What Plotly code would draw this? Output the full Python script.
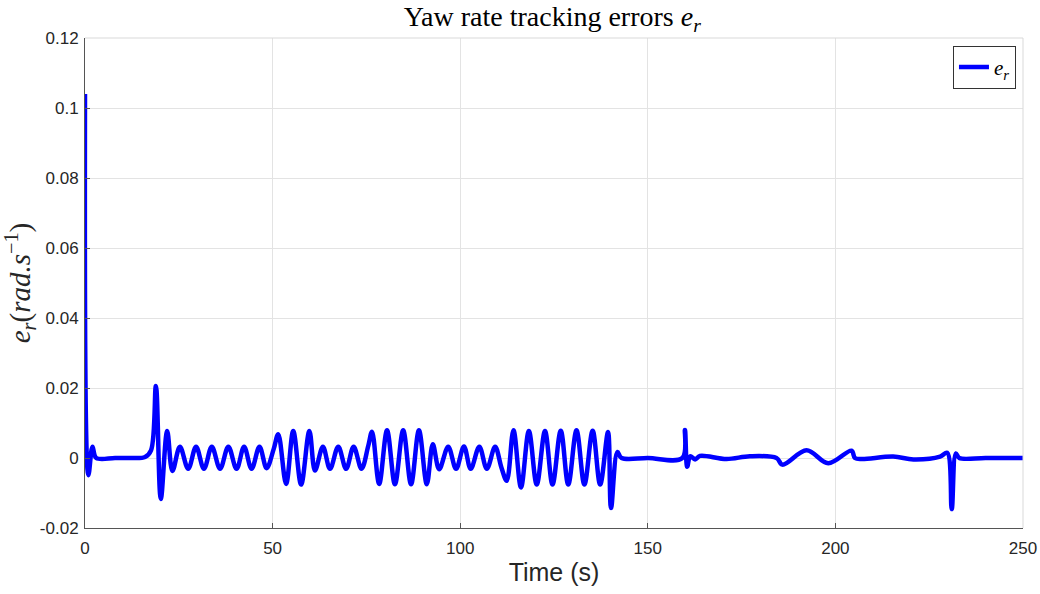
import plotly.graph_objects as go

# Key points (time in s, yaw-rate error in rad/s)
time_s = [
    0.0, 0.9, 2.0, 3.0, 8.0, 12.0, 16.0, 17.6, 18.9, 20.2, 21.9, 23.3,
    25.3, 27.5, 29.6, 31.7, 33.8, 36.0, 38.2, 40.4, 42.4, 44.4, 46.5, 48.4,
    50.3, 51.5, 53.6, 55.5, 57.6, 59.8, 61.3, 63.4, 65.3, 67.5, 69.6, 71.6,
    73.7, 75.5, 76.5, 78.4, 80.5, 82.6, 84.8, 86.9, 89.0, 91.1, 92.7, 94.4,
    96.8, 98.9, 101.0, 102.8, 105.1, 107.1, 109.3, 111.0, 112.4, 114.2, 116.2,
    118.3, 120.4, 122.6, 124.6, 126.8, 128.8, 131.0, 133.1, 135.3, 137.3,
    139.4, 140.2, 141.9, 143.0, 150.0, 159.2, 159.9, 160.5, 161.3, 162.6,
    163.9, 171.0, 177.2, 184.3, 185.9, 192.3, 198.1, 204.3, 205.2, 207.0,
    215.4, 220.8, 227.9, 229.8, 231.0, 232.1, 233.0, 240.0, 250.0,
]
error_r = [
    0.104, -0.0049, 0.0032, 0.0, 0.0, 0.0, 0.0003, 0.0022, 0.0206, -0.0117, 0.0077, -0.0037,
    0.0032, -0.0031, 0.0032, -0.0031, 0.0032, -0.0031, 0.0032, -0.0031, 0.0032, -0.0031, 0.0032, -0.0029,
    0.0026, 0.0068, -0.0074, 0.0077, -0.0076, 0.0077, -0.0036, 0.0032, -0.0031, 0.0032, -0.0031, 0.0032,
    -0.0031, 0.0035, 0.0075, -0.0074, 0.0079, -0.0075, 0.0079, -0.0075, 0.0079, -0.0075, 0.0039, -0.0032,
    0.0032, -0.0031, 0.0033, -0.0031, 0.0032, -0.0031, 0.0032, -0.0028, -0.0065, 0.0079, -0.0084,
    0.0077, -0.0076, 0.0077, -0.0076, 0.0078, -0.0076, 0.0079, -0.0076, 0.0078, -0.0076,
    0.0074, -0.0143, 0.0017, 0.0, 0.0, 0.0, 0.008, -0.0025, 0.0005, -0.0004,
    0.0006, -0.0003, 0.0005, 0.0, -0.0019, 0.0022, -0.0015, 0.0021, 0.0, -0.0003,
    0.0004, -0.0004, 0.0004, 0.0015, -0.0146, 0.0013, 0.0, 0.0, 0.0,
]

x_ticks = [0, 50, 100, 150, 200, 250]
x_ticktext = ["0", "50", "100", "150", "200", "250"]
y_ticks = [-0.02, 0, 0.02, 0.04, 0.06, 0.08, 0.1, 0.12]
y_ticktext = ["-0.02", "0", "0.02", "0.04", "0.06", "0.08", "0.1", "0.12"]

serif = "Liberation Serif, DejaVu Serif, serif"
sans = "Liberation Sans, Arial, sans-serif"

fig = go.Figure()
fig.add_trace(go.Scatter(
    x=time_s, y=error_r, mode="lines",
    line=dict(color="#0000FF", width=4.5, shape="spline", smoothing=1.0),
    name="<i>e<sub>r</sub></i>",
))

fig.update_layout(
    width=1040, height=594,
    margin=dict(l=85, r=17, t=38, b=66, autoexpand=False),
    paper_bgcolor="white", plot_bgcolor="white",
    title=dict(text="Yaw rate tracking errors <i>e<sub>r</sub></i>",
               x=0.531, xanchor="center", y=0.973, yanchor="middle",
               automargin=False,
               font=dict(family=serif, size=28, color="#000000")),
    showlegend=True,
    legend=dict(x=0.9925, y=0.984, xanchor="right", yanchor="top",
                bgcolor="white", bordercolor="#333333", borderwidth=1,
                font=dict(family=serif, size=21, color="#000000"),
                itemwidth=30, tracegroupgap=0),
    xaxis=dict(range=[0, 250], tickvals=x_ticks, ticktext=x_ticktext,
               automargin=False,
               showgrid=True, gridcolor="#e3e3e3", gridwidth=1,
               showline=True, linecolor="#555555", linewidth=1,
               ticks="inside", ticklen=5, tickcolor="#555555",
               ticklabelstandoff=5,
               zeroline=False,
               tickfont=dict(family=sans, size=17, color="#262626"),
               title=dict(text="Time (s)", standoff=6,
                          font=dict(family=sans, size=25, color="#262626"))),
    yaxis=dict(range=[-0.02, 0.12], tickvals=y_ticks, ticktext=y_ticktext,
               automargin=False,
               showgrid=True, gridcolor="#e3e3e3", gridwidth=1,
               showline=True, linecolor="#555555", linewidth=1,
               ticks="inside", ticklen=5, tickcolor="#555555",
               ticklabelstandoff=2,
               zeroline=False,
               tickfont=dict(family=sans, size=17, color="#262626"),
               title=dict(text="<i>e<sub>r</sub></i>(<i>rad.s</i><sup>−1</sup>)", standoff=12,
                          font=dict(family=serif, size=29, color="#262626"))),
    shapes=[
        dict(type="line", xref="paper", yref="paper", x0=0, x1=1, y0=1, y1=1,
             line=dict(color="#d9d9d9", width=1)),
        dict(type="line", xref="paper", yref="paper", x0=1, x1=1, y0=0, y1=1,
             line=dict(color="#d9d9d9", width=1)),
    ],
)

fig.write_html(
    "out.html",
    config={"displayModeBar": False},
    post_script="document.body.style.margin='0';document.body.style.overflow='hidden';",
)
